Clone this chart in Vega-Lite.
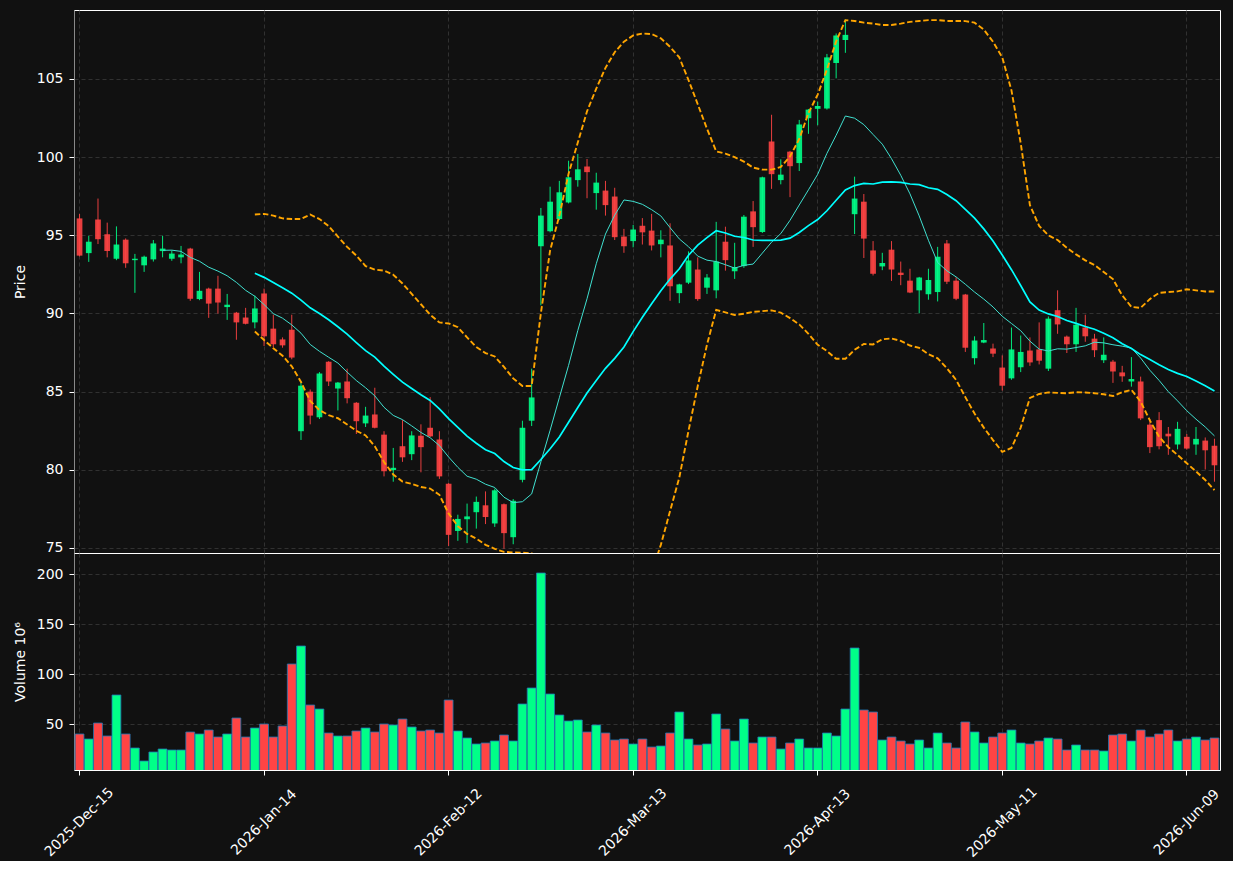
{
"$schema": "https://vega.github.io/schema/vega-lite/v6.json",
"background": "#111111",
"padding": {"left": 12, "top": 9, "right": 10, "bottom": 0},
"spacing": 0,
"bounds": "flush",
"datasets": {"ohlc": [
{"d":"2025-Dec-15","o":96.08,"h":96.37,"l":93.65,"c":93.70,"v":40,"m10":null,"m20":null,"ub":null,"lb":null},
{"d":"2025-Dec-16","o":93.86,"h":94.97,"l":93.30,"c":94.59,"v":35,"m10":null,"m20":null,"ub":null,"lb":null},
{"d":"2025-Dec-17","o":96.01,"h":97.35,"l":94.44,"c":94.75,"v":51,"m10":null,"m20":null,"ub":null,"lb":null},
{"d":"2025-Dec-18","o":95.06,"h":95.81,"l":93.59,"c":93.99,"v":38,"m10":null,"m20":null,"ub":null,"lb":null},
{"d":"2025-Dec-19","o":93.50,"h":95.57,"l":93.41,"c":94.41,"v":79,"m10":null,"m20":null,"ub":null,"lb":null},
{"d":"2025-Dec-22","o":94.72,"h":94.80,"l":92.92,"c":93.21,"v":40,"m10":null,"m20":null,"ub":null,"lb":null},
{"d":"2025-Dec-23","o":93.41,"h":93.81,"l":91.32,"c":93.50,"v":26,"m10":null,"m20":null,"ub":null,"lb":null},
{"d":"2025-Dec-24","o":93.08,"h":93.70,"l":92.66,"c":93.63,"v":13,"m10":null,"m20":null,"ub":null,"lb":null},
{"d":"2025-Dec-26","o":93.46,"h":94.70,"l":93.32,"c":94.48,"v":22,"m10":null,"m20":null,"ub":null,"lb":null},
{"d":"2025-Dec-29","o":93.99,"h":94.97,"l":93.59,"c":94.15,"v":25,"m10":94.04,"m20":null,"ub":null,"lb":null},
{"d":"2025-Dec-30","o":93.50,"h":94.03,"l":93.37,"c":93.83,"v":24,"m10":94.05,"m20":null,"ub":null,"lb":null},
{"d":"2025-Dec-31","o":93.59,"h":94.32,"l":93.21,"c":93.77,"v":24,"m10":93.97,"m20":null,"ub":null,"lb":null},
{"d":"2026-Jan-02","o":94.15,"h":94.20,"l":90.81,"c":90.94,"v":42,"m10":93.59,"m20":null,"ub":null,"lb":null},
{"d":"2026-Jan-05","o":90.92,"h":92.66,"l":90.85,"c":91.45,"v":40,"m10":93.34,"m20":null,"ub":null,"lb":null},
{"d":"2026-Jan-06","o":91.59,"h":91.65,"l":89.72,"c":90.63,"v":44,"m10":92.96,"m20":null,"ub":null,"lb":null},
{"d":"2026-Jan-07","o":91.59,"h":92.41,"l":89.99,"c":90.70,"v":37,"m10":92.71,"m20":null,"ub":null,"lb":null},
{"d":"2026-Jan-08","o":90.41,"h":91.25,"l":89.59,"c":90.56,"v":40,"m10":92.41,"m20":null,"ub":null,"lb":null},
{"d":"2026-Jan-09","o":90.05,"h":90.10,"l":88.32,"c":89.43,"v":56,"m10":91.99,"m20":null,"ub":null,"lb":null},
{"d":"2026-Jan-12","o":89.74,"h":90.36,"l":89.30,"c":89.34,"v":37,"m10":91.48,"m20":null,"ub":null,"lb":null},
{"d":"2026-Jan-13","o":89.43,"h":91.14,"l":89.05,"c":90.32,"v":46,"m10":91.10,"m20":92.57,"ub":96.33,"lb":88.85},
{"d":"2026-Jan-14","o":91.28,"h":91.59,"l":87.92,"c":88.54,"v":50,"m10":90.57,"m20":92.31,"ub":96.37,"lb":88.30},
{"d":"2026-Jan-15","o":89.03,"h":89.92,"l":87.85,"c":88.03,"v":37,"m10":89.99,"m20":91.98,"ub":96.26,"lb":87.78},
{"d":"2026-Jan-16","o":88.34,"h":88.47,"l":87.81,"c":87.96,"v":48,"m10":89.70,"m20":91.64,"ub":96.08,"lb":87.30},
{"d":"2026-Jan-20","o":88.96,"h":89.92,"l":87.07,"c":87.18,"v":110,"m10":89.27,"m20":91.30,"ub":96.04,"lb":86.62},
{"d":"2026-Jan-21","o":82.47,"h":85.69,"l":81.91,"c":85.38,"v":128,"m10":88.74,"m20":90.85,"ub":96.04,"lb":85.62},
{"d":"2026-Jan-22","o":85.00,"h":85.14,"l":82.91,"c":83.47,"v":69,"m10":88.02,"m20":90.36,"ub":96.33,"lb":84.40},
{"d":"2026-Jan-23","o":83.36,"h":86.25,"l":83.25,"c":86.16,"v":65,"m10":87.58,"m20":90.00,"ub":96.04,"lb":83.82},
{"d":"2026-Jan-26","o":86.92,"h":86.95,"l":85.36,"c":85.65,"v":41,"m10":87.20,"m20":89.60,"ub":95.59,"lb":83.50},
{"d":"2026-Jan-27","o":85.20,"h":85.62,"l":83.80,"c":85.58,"v":38,"m10":86.83,"m20":89.15,"ub":94.92,"lb":83.30},
{"d":"2026-Jan-28","o":85.65,"h":86.47,"l":84.25,"c":84.58,"v":38,"m10":86.25,"m20":88.68,"ub":94.26,"lb":82.90},
{"d":"2026-Jan-29","o":84.29,"h":84.33,"l":82.29,"c":83.11,"v":43,"m10":85.71,"m20":88.14,"ub":93.70,"lb":82.50},
{"d":"2026-Jan-30","o":82.97,"h":84.03,"l":82.74,"c":83.47,"v":46,"m10":85.25,"m20":87.62,"ub":93.03,"lb":82.20},
{"d":"2026-Feb-02","o":83.54,"h":85.25,"l":82.65,"c":82.69,"v":42,"m10":84.73,"m20":87.21,"ub":92.81,"lb":81.50},
{"d":"2026-Feb-03","o":82.25,"h":82.47,"l":79.58,"c":79.91,"v":50,"m10":84.00,"m20":86.63,"ub":92.74,"lb":80.50},
{"d":"2026-Feb-04","o":79.98,"h":81.40,"l":79.24,"c":80.13,"v":49,"m10":83.48,"m20":86.11,"ub":92.48,"lb":79.70},
{"d":"2026-Feb-05","o":81.51,"h":83.18,"l":80.51,"c":80.80,"v":55,"m10":83.21,"m20":85.61,"ub":91.92,"lb":79.25},
{"d":"2026-Feb-06","o":81.00,"h":82.47,"l":80.62,"c":82.20,"v":47,"m10":82.81,"m20":85.20,"ub":91.25,"lb":79.10},
{"d":"2026-Feb-09","o":82.18,"h":82.91,"l":79.84,"c":81.45,"v":43,"m10":82.39,"m20":84.80,"ub":90.59,"lb":78.90},
{"d":"2026-Feb-10","o":82.69,"h":84.65,"l":82.10,"c":82.14,"v":44,"m10":82.05,"m20":84.44,"ub":89.92,"lb":78.80},
{"d":"2026-Feb-11","o":81.94,"h":82.47,"l":79.42,"c":79.58,"v":41,"m10":81.55,"m20":83.90,"ub":89.43,"lb":78.40},
{"d":"2026-Feb-12","o":79.11,"h":79.15,"l":75.13,"c":75.84,"v":74,"m10":80.82,"m20":83.27,"ub":89.36,"lb":77.20},
{"d":"2026-Feb-13","o":76.09,"h":77.13,"l":75.46,"c":76.86,"v":43,"m10":80.16,"m20":82.71,"ub":89.12,"lb":76.40},
{"d":"2026-Feb-17","o":76.84,"h":77.84,"l":75.31,"c":77.02,"v":36,"m10":79.59,"m20":82.16,"ub":88.47,"lb":75.90},
{"d":"2026-Feb-18","o":77.29,"h":78.29,"l":76.24,"c":77.95,"v":30,"m10":79.40,"m20":81.70,"ub":87.85,"lb":75.60},
{"d":"2026-Feb-19","o":77.73,"h":78.62,"l":76.53,"c":76.98,"v":31,"m10":79.08,"m20":81.28,"ub":87.47,"lb":75.20},
{"d":"2026-Feb-20","o":76.57,"h":78.80,"l":76.35,"c":78.69,"v":33,"m10":78.87,"m20":81.04,"ub":87.25,"lb":74.95},
{"d":"2026-Feb-23","o":77.80,"h":77.85,"l":74.95,"c":75.95,"v":39,"m10":78.25,"m20":80.53,"ub":86.58,"lb":74.75},
{"d":"2026-Feb-24","o":75.69,"h":78.13,"l":75.24,"c":78.02,"v":33,"m10":77.90,"m20":80.15,"ub":85.85,"lb":74.72},
{"d":"2026-Feb-25","o":79.36,"h":83.14,"l":79.20,"c":82.69,"v":70,"m10":77.96,"m20":80.00,"ub":85.36,"lb":74.70},
{"d":"2026-Feb-26","o":83.14,"h":86.47,"l":82.80,"c":84.63,"v":86,"m10":78.46,"m20":80.01,"ub":85.36,"lb":74.66},
{"d":"2026-Feb-27","o":94.30,"h":96.75,"l":90.52,"c":96.26,"v":201,"m10":80.51,"m20":80.66,"ub":90.03,"lb":71.30},
{"d":"2026-Mar-02","o":95.26,"h":98.11,"l":95.19,"c":97.15,"v":80,"m10":82.53,"m20":81.35,"ub":94.03,"lb":68.70},
{"d":"2026-Mar-03","o":96.04,"h":98.48,"l":95.97,"c":97.75,"v":59,"m10":84.61,"m20":82.10,"ub":96.26,"lb":67.90},
{"d":"2026-Mar-04","o":97.10,"h":99.77,"l":97.04,"c":98.71,"v":53,"m10":86.68,"m20":83.04,"ub":98.93,"lb":67.20},
{"d":"2026-Mar-05","o":98.53,"h":100.20,"l":98.11,"c":99.22,"v":54,"m10":88.91,"m20":83.99,"ub":100.93,"lb":67.00},
{"d":"2026-Mar-06","o":99.40,"h":99.88,"l":97.37,"c":99.04,"v":42,"m10":90.94,"m20":84.91,"ub":102.93,"lb":66.90},
{"d":"2026-Mar-09","o":97.70,"h":99.00,"l":96.64,"c":98.37,"v":49,"m10":93.18,"m20":85.72,"ub":104.38,"lb":67.10},
{"d":"2026-Mar-10","o":97.86,"h":98.48,"l":96.26,"c":96.93,"v":41,"m10":95.08,"m20":86.49,"ub":105.71,"lb":67.30},
{"d":"2026-Mar-11","o":97.48,"h":98.04,"l":94.70,"c":94.88,"v":34,"m10":96.29,"m20":87.13,"ub":106.71,"lb":67.60},
{"d":"2026-Mar-12","o":94.92,"h":95.41,"l":93.88,"c":94.30,"v":35,"m10":97.26,"m20":87.86,"ub":107.38,"lb":68.30},
{"d":"2026-Mar-13","o":94.63,"h":95.66,"l":94.23,"c":95.37,"v":30,"m10":97.17,"m20":88.84,"ub":107.78,"lb":69.90},
{"d":"2026-Mar-16","o":95.61,"h":96.10,"l":94.41,"c":95.19,"v":35,"m10":96.98,"m20":89.76,"ub":107.91,"lb":71.60},
{"d":"2026-Mar-17","o":95.30,"h":96.37,"l":94.03,"c":94.35,"v":27,"m10":96.64,"m20":90.62,"ub":107.87,"lb":73.40},
{"d":"2026-Mar-18","o":94.43,"h":95.32,"l":93.59,"c":94.72,"v":28,"m10":96.24,"m20":91.46,"ub":107.60,"lb":75.20},
{"d":"2026-Mar-19","o":94.35,"h":95.77,"l":90.81,"c":91.74,"v":41,"m10":95.49,"m20":92.20,"ub":107.05,"lb":77.36},
{"d":"2026-Mar-20","o":91.30,"h":91.90,"l":90.66,"c":91.86,"v":62,"m10":94.77,"m20":92.86,"ub":106.38,"lb":79.50},
{"d":"2026-Mar-23","o":91.97,"h":93.97,"l":91.88,"c":93.39,"v":35,"m10":94.27,"m20":93.73,"ub":104.93,"lb":82.50},
{"d":"2026-Mar-24","o":92.81,"h":93.59,"l":90.81,"c":90.92,"v":29,"m10":93.67,"m20":94.37,"ub":103.38,"lb":85.36},
{"d":"2026-Mar-25","o":91.65,"h":92.52,"l":91.25,"c":92.30,"v":30,"m10":93.41,"m20":94.85,"ub":101.82,"lb":88.00},
{"d":"2026-Mar-26","o":91.48,"h":95.86,"l":90.97,"c":93.32,"v":60,"m10":93.32,"m20":95.29,"ub":100.37,"lb":90.23},
{"d":"2026-Mar-27","o":94.59,"h":95.55,"l":92.74,"c":93.41,"v":45,"m10":93.12,"m20":95.15,"ub":100.22,"lb":90.07},
{"d":"2026-Mar-30","o":92.70,"h":94.52,"l":92.21,"c":92.97,"v":33,"m10":92.90,"m20":94.94,"ub":100.00,"lb":89.90},
{"d":"2026-Mar-31","o":93.03,"h":96.30,"l":92.92,"c":96.19,"v":55,"m10":93.08,"m20":94.86,"ub":99.71,"lb":89.98},
{"d":"2026-Apr-01","o":96.53,"h":97.19,"l":94.26,"c":95.52,"v":31,"m10":93.16,"m20":94.70,"ub":99.33,"lb":90.10},
{"d":"2026-Apr-02","o":95.21,"h":98.75,"l":95.15,"c":98.71,"v":37,"m10":93.86,"m20":94.67,"ub":99.20,"lb":90.15},
{"d":"2026-Apr-06","o":101.00,"h":102.71,"l":97.97,"c":98.91,"v":37,"m10":94.56,"m20":94.67,"ub":99.20,"lb":90.20},
{"d":"2026-Apr-07","o":98.53,"h":99.86,"l":98.26,"c":98.88,"v":25,"m10":95.11,"m20":94.69,"ub":99.37,"lb":90.05},
{"d":"2026-Apr-08","o":100.35,"h":100.40,"l":97.44,"c":99.42,"v":31,"m10":95.96,"m20":94.82,"ub":100.04,"lb":89.70},
{"d":"2026-Apr-09","o":99.62,"h":102.38,"l":99.11,"c":102.09,"v":35,"m10":96.94,"m20":95.18,"ub":101.16,"lb":89.30},
{"d":"2026-Apr-10","o":102.49,"h":103.08,"l":101.49,"c":103.04,"v":26,"m10":97.91,"m20":95.62,"ub":102.82,"lb":88.70},
{"d":"2026-Apr-13","o":103.09,"h":103.55,"l":102.04,"c":103.27,"v":26,"m10":98.90,"m20":96.01,"ub":104.00,"lb":88.00},
{"d":"2026-Apr-14","o":103.11,"h":106.60,"l":103.04,"c":106.38,"v":41,"m10":100.24,"m20":96.57,"ub":105.60,"lb":87.60},
{"d":"2026-Apr-15","o":106.02,"h":107.91,"l":105.04,"c":107.78,"v":38,"m10":101.40,"m20":97.24,"ub":107.40,"lb":87.10},
{"d":"2026-Apr-16","o":107.49,"h":108.80,"l":106.67,"c":107.82,"v":65,"m10":102.63,"m20":97.90,"ub":108.76,"lb":87.10},
{"d":"2026-Apr-17","o":96.35,"h":98.75,"l":95.08,"c":97.35,"v":126,"m10":102.49,"m20":98.18,"ub":108.71,"lb":87.68},
{"d":"2026-Apr-20","o":97.15,"h":97.64,"l":93.55,"c":94.79,"v":64,"m10":102.08,"m20":98.32,"ub":108.60,"lb":88.05},
{"d":"2026-Apr-21","o":94.03,"h":94.63,"l":92.43,"c":92.54,"v":62,"m10":101.45,"m20":98.28,"ub":108.54,"lb":88.02},
{"d":"2026-Apr-22","o":93.01,"h":93.88,"l":92.77,"c":93.23,"v":34,"m10":100.83,"m20":98.40,"ub":108.45,"lb":88.35},
{"d":"2026-Apr-23","o":94.08,"h":94.63,"l":92.08,"c":92.81,"v":37,"m10":99.90,"m20":98.42,"ub":108.45,"lb":88.40},
{"d":"2026-Apr-24","o":92.61,"h":93.32,"l":91.81,"c":92.46,"v":33,"m10":98.84,"m20":98.38,"ub":108.54,"lb":88.25},
{"d":"2026-Apr-27","o":92.10,"h":92.86,"l":91.30,"c":91.34,"v":30,"m10":97.65,"m20":98.28,"ub":108.65,"lb":87.95},
{"d":"2026-Apr-28","o":91.48,"h":92.34,"l":90.01,"c":92.30,"v":34,"m10":96.24,"m20":98.24,"ub":108.71,"lb":87.80},
{"d":"2026-Apr-29","o":91.23,"h":92.86,"l":90.88,"c":92.14,"v":26,"m10":94.68,"m20":98.04,"ub":108.76,"lb":87.40},
{"d":"2026-Apr-30","o":91.37,"h":94.26,"l":90.77,"c":93.63,"v":41,"m10":93.26,"m20":97.94,"ub":108.76,"lb":87.13},
{"d":"2026-May-01","o":94.48,"h":94.70,"l":91.88,"c":92.03,"v":31,"m10":92.73,"m20":97.61,"ub":108.71,"lb":86.50},
{"d":"2026-May-04","o":92.10,"h":92.32,"l":90.85,"c":90.94,"v":26,"m10":92.34,"m20":97.21,"ub":108.71,"lb":85.75},
{"d":"2026-May-05","o":91.21,"h":91.25,"l":87.54,"c":87.81,"v":52,"m10":91.87,"m20":96.66,"ub":108.70,"lb":84.65},
{"d":"2026-May-06","o":87.14,"h":88.54,"l":86.74,"c":88.27,"v":42,"m10":91.37,"m20":96.10,"ub":108.60,"lb":83.60},
{"d":"2026-May-07","o":88.14,"h":89.39,"l":88.10,"c":88.30,"v":31,"m10":90.92,"m20":95.41,"ub":108.16,"lb":82.70},
{"d":"2026-May-08","o":87.76,"h":88.07,"l":87.21,"c":87.43,"v":37,"m10":90.42,"m20":94.63,"ub":107.38,"lb":81.90},
{"d":"2026-May-11","o":86.54,"h":87.32,"l":85.07,"c":85.38,"v":41,"m10":89.82,"m20":93.74,"ub":106.38,"lb":81.15},
{"d":"2026-May-12","o":85.85,"h":89.10,"l":85.76,"c":87.70,"v":44,"m10":89.36,"m20":92.80,"ub":104.27,"lb":81.40},
{"d":"2026-May-13","o":86.56,"h":88.59,"l":86.25,"c":87.54,"v":31,"m10":88.90,"m20":91.79,"ub":100.90,"lb":82.70},
{"d":"2026-May-14","o":87.63,"h":88.47,"l":86.65,"c":86.87,"v":30,"m10":88.23,"m20":90.74,"ub":96.93,"lb":84.60},
{"d":"2026-May-15","o":87.70,"h":89.43,"l":86.74,"c":86.98,"v":33,"m10":87.72,"m20":90.22,"ub":95.60,"lb":84.85},
{"d":"2026-May-18","o":86.47,"h":89.81,"l":86.32,"c":89.67,"v":36,"m10":87.60,"m20":89.97,"ub":95.00,"lb":84.95},
{"d":"2026-May-19","o":90.21,"h":91.48,"l":88.70,"c":89.30,"v":35,"m10":87.74,"m20":89.81,"ub":94.70,"lb":84.92},
{"d":"2026-May-20","o":88.52,"h":88.59,"l":87.47,"c":88.03,"v":24,"m10":87.72,"m20":89.55,"ub":94.20,"lb":84.90},
{"d":"2026-May-21","o":88.03,"h":90.36,"l":87.54,"c":89.28,"v":29,"m10":87.82,"m20":89.37,"ub":93.78,"lb":84.96},
{"d":"2026-May-22","o":89.10,"h":89.92,"l":88.19,"c":88.54,"v":24,"m10":87.93,"m20":89.17,"ub":93.40,"lb":84.95},
{"d":"2026-May-26","o":88.39,"h":88.70,"l":87.21,"c":87.65,"v":24,"m10":88.16,"m20":88.99,"ub":93.10,"lb":84.90},
{"d":"2026-May-27","o":87.01,"h":88.47,"l":86.83,"c":87.36,"v":23,"m10":88.12,"m20":88.74,"ub":92.65,"lb":84.83},
{"d":"2026-May-28","o":86.92,"h":87.03,"l":85.56,"c":86.29,"v":39,"m10":88.00,"m20":88.45,"ub":92.20,"lb":84.72},
{"d":"2026-May-29","o":86.23,"h":86.65,"l":85.63,"c":85.98,"v":40,"m10":87.91,"m20":88.07,"ub":91.16,"lb":84.96},
{"d":"2026-Jun-01","o":85.65,"h":87.21,"l":85.32,"c":85.81,"v":33,"m10":87.79,"m20":87.76,"ub":90.42,"lb":85.12},
{"d":"2026-Jun-02","o":85.65,"h":85.96,"l":83.18,"c":83.29,"v":44,"m10":87.15,"m20":87.37,"ub":90.36,"lb":84.36},
{"d":"2026-Jun-03","o":82.89,"h":83.25,"l":81.07,"c":81.45,"v":37,"m10":86.37,"m20":87.06,"ub":90.92,"lb":83.16},
{"d":"2026-Jun-04","o":83.18,"h":83.69,"l":81.31,"c":81.51,"v":40,"m10":85.72,"m20":86.72,"ub":91.32,"lb":82.12},
{"d":"2026-Jun-05","o":82.31,"h":82.74,"l":80.96,"c":82.14,"v":44,"m10":85.00,"m20":86.41,"ub":91.37,"lb":81.45},
{"d":"2026-Jun-08","o":81.62,"h":83.07,"l":81.31,"c":82.62,"v":33,"m10":84.41,"m20":86.17,"ub":91.41,"lb":80.95},
{"d":"2026-Jun-09","o":82.11,"h":82.29,"l":81.29,"c":81.36,"v":35,"m10":83.78,"m20":85.97,"ub":91.55,"lb":80.42},
{"d":"2026-Jun-10","o":81.62,"h":82.74,"l":80.96,"c":81.98,"v":37,"m10":83.24,"m20":85.68,"ub":91.48,"lb":79.90},
{"d":"2026-Jun-11","o":81.87,"h":82.07,"l":80.02,"c":81.25,"v":34,"m10":82.74,"m20":85.37,"ub":91.41,"lb":79.35},
{"d":"2026-Jun-12","o":81.54,"h":81.99,"l":79.24,"c":80.29,"v":36,"m10":82.17,"m20":85.04,"ub":91.41,"lb":78.70}
]},
"vconcat": [
{
"width": 1146, "height": 543,
"data": {"name": "ohlc"},
"encoding": {
"x": {"field": "d", "type": "ordinal", "sort": null, "bandPosition": 0.5,
"scale": {"type": "band", "paddingInner": 0, "paddingOuter": 0.1},
"axis": {"values": ["2025-Dec-15","2026-Jan-14","2026-Feb-12","2026-Mar-13","2026-Apr-13","2026-May-11","2026-Jun-09"], "labels": false, "ticks": false, "domain": false, "title": null, "grid": true, "bandPosition": 0.5}}
},
"layer": [
{"mark": {"type": "rule", "clip": true, "strokeWidth": 1, "opacity": 0.9},
"encoding": {
"y": {"field": "l", "type": "quantitative", "title": "Price", "scale": {"domain": [74.68, 109.41], "nice": false, "zero": false},
"axis": {"values": [75, 80, 85, 90, 95, 100, 105], "grid": true, "tickSize": 5, "labelPadding": 6, "titlePadding": 9}},
"y2": {"field": "h"},
"color": {"condition": {"test": "datum.c >= datum.o", "value": "#00ff88"}, "value": "#ff4444"}}},
{"mark": {"type": "bar", "clip": true, "width": {"band": 0.62}, "opacity": 0.9},
"encoding": {
"y": {"field": "o", "type": "quantitative", "title": "Price"},
"y2": {"field": "c"},
"color": {"condition": {"test": "datum.c >= datum.o", "value": "#00ff88"}, "value": "#ff4444"}}},
{"mark": {"type": "line", "clip": true, "color": "#40e0d0", "strokeWidth": 1},
"encoding": {"y": {"field": "m10", "type": "quantitative", "title": "Price"}}},
{"mark": {"type": "line", "clip": true, "color": "#00ffff", "strokeWidth": 1.7},
"encoding": {"y": {"field": "m20", "type": "quantitative", "title": "Price"}}},
{"mark": {"type": "line", "clip": true, "color": "#ffa500", "strokeWidth": 1.9, "strokeDash": [5.5, 2.6]},
"encoding": {"y": {"field": "ub", "type": "quantitative", "title": "Price"}}},
{"mark": {"type": "line", "clip": true, "color": "#ffa500", "strokeWidth": 1.9, "strokeDash": [5.5, 2.6]},
"encoding": {"y": {"field": "lb", "type": "quantitative", "title": "Price"}}}
]
},
{
"width": 1146, "height": 217,
"data": {"name": "ohlc"},
"mark": {"type": "bar", "clip": true, "width": {"band": 0.96}, "stroke": "#1f77b4", "strokeWidth": 0.8},
"encoding": {
"x": {"field": "d", "type": "ordinal", "sort": null,
"scale": {"type": "band", "paddingInner": 0, "paddingOuter": 0.1},
"axis": {"values": ["2025-Dec-15","2026-Jan-14","2026-Feb-12","2026-Mar-13","2026-Apr-13","2026-May-11","2026-Jun-09"], "labelAngle": -45, "labelAlign": "center", "labelBaseline": "middle", "labelPadding": 47, "tickSize": 5, "labelOverlap": false, "domain": false, "title": null, "grid": true, "bandPosition": 0.5}},
"y": {"field": "v", "type": "quantitative", "title": "Volume  10⁶", "scale": {"domain": [4, 221], "nice": false, "zero": false},
"axis": {"values": [50, 100, 150, 200], "grid": true, "tickSize": 5, "labelPadding": 6, "titlePadding": 9}},
"color": {"condition": {"test": "datum.c >= datum.o", "value": "#00ff88"}, "value": "#ff4444"}
}
}
],
"config": {
"font": "DejaVu Sans",
"view": {"stroke": "#ffffff", "strokeWidth": 1},
"axis": {"labelColor": "#ffffff", "titleColor": "#ffffff", "labelFont": "DejaVu Sans", "titleFont": "DejaVu Sans", "labelFontSize": 14, "titleFontSize": 14, "titleFontWeight": "normal", "tickColor": "#ffffff", "gridColor": "#3a3a3a", "gridDash": [4, 3], "gridWidth": 0.8}
}
}
